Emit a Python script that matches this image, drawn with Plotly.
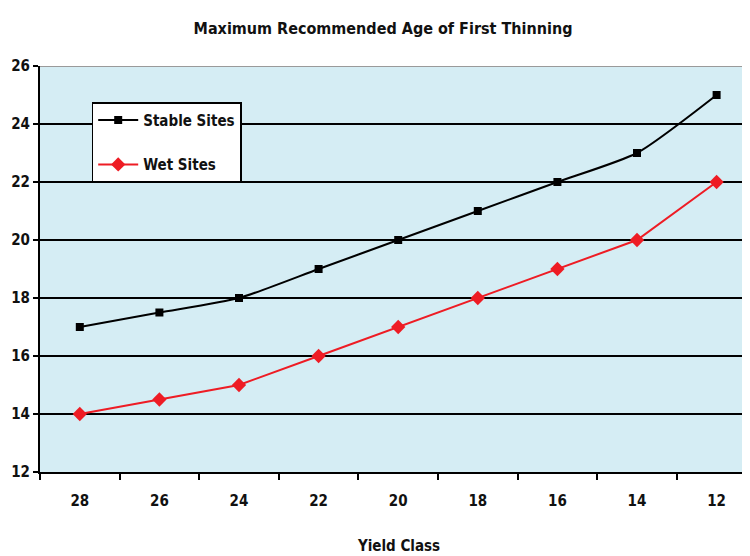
import plotly.graph_objects as go

yield_class = ["28", "26", "24", "22", "20", "18", "16", "14", "12"]
stable_sites = [17, 17.5, 18, 19, 20, 21, 22, 23, 25]
wet_sites = [14, 14.5, 15, 16, 17, 18, 19, 20, 22]
y_ticks = [12, 14, 16, 18, 20, 22, 24, 26]

FONT = "DejaVu Sans Condensed, Liberation Sans Narrow, Arial Narrow, sans-serif"

fig = go.Figure()
fig.add_trace(go.Scatter(
    x=yield_class, y=stable_sites, name="Stable Sites", mode="lines+markers",
    legendgroup="a",
    line=dict(color="black", width=2, shape="spline", smoothing=0.6),
    marker=dict(symbol="square", size=8, color="black"),
))
fig.add_trace(go.Scatter(
    x=yield_class, y=wet_sites, name="Wet Sites", mode="lines+markers",
    legendgroup="b",
    line=dict(color="#ee1c24", width=2),
    marker=dict(symbol="diamond", size=11, color="#ee1c24"),
))

fig.update_layout(
    width=750, height=556,
    margin=dict(l=32, r=0, t=58, b=92),
    paper_bgcolor="white",
    plot_bgcolor="#d5edf4",
    font=dict(family=FONT, size=15, color="#111111"),
    title=dict(text="<b>Maximum Recommended Age of First Thinning</b>",
               x=0.5, xanchor="center", y=0.964, yanchor="middle",
               font=dict(family=FONT, size=16, color="#111111")),
    showlegend=True,
    legend=dict(x=0.072, y=0.911, xanchor="left", yanchor="top",
                bgcolor="white", bordercolor="black", borderwidth=1.5,
                font=dict(family=FONT, size=15, color="#111111", weight="bold"),
                tracegroupgap=22, itemwidth=40),
    xaxis=dict(
        type="category", range=[-0.5, 8.52], automargin=False,
        tickmode="array", tickvals=yield_class,
        ticktext=[f"<b>{t}</b>" for t in yield_class],
        tickson="boundaries", ticks="outside", ticklen=6, tickwidth=1.5, tickcolor="black",
        showgrid=False, showline=True, linecolor="black", linewidth=2,
        title=dict(text="<b>Yield Class</b>", standoff=31,
                   font=dict(family=FONT, size=15, color="#111111")),
        ticklabelstandoff=14,
        zeroline=False,
    ),
    yaxis=dict(
        range=[12, 26], tickmode="array", tickvals=y_ticks, automargin=False,
        ticktext=[f"<b>{t}</b>" for t in y_ticks],
        ticks="outside", ticklen=5, tickwidth=1.5, tickcolor="black",
        showgrid=True, gridcolor="black", gridwidth=2,
        showline=True, linecolor="black", linewidth=2,
        zeroline=False,
    ),
)
fig.add_shape(type="line", xref="paper", yref="y", x0=0, x1=1, y0=26, y1=26,
              line=dict(color="#9a9a9a", width=2))

fig.write_html("out.html")
